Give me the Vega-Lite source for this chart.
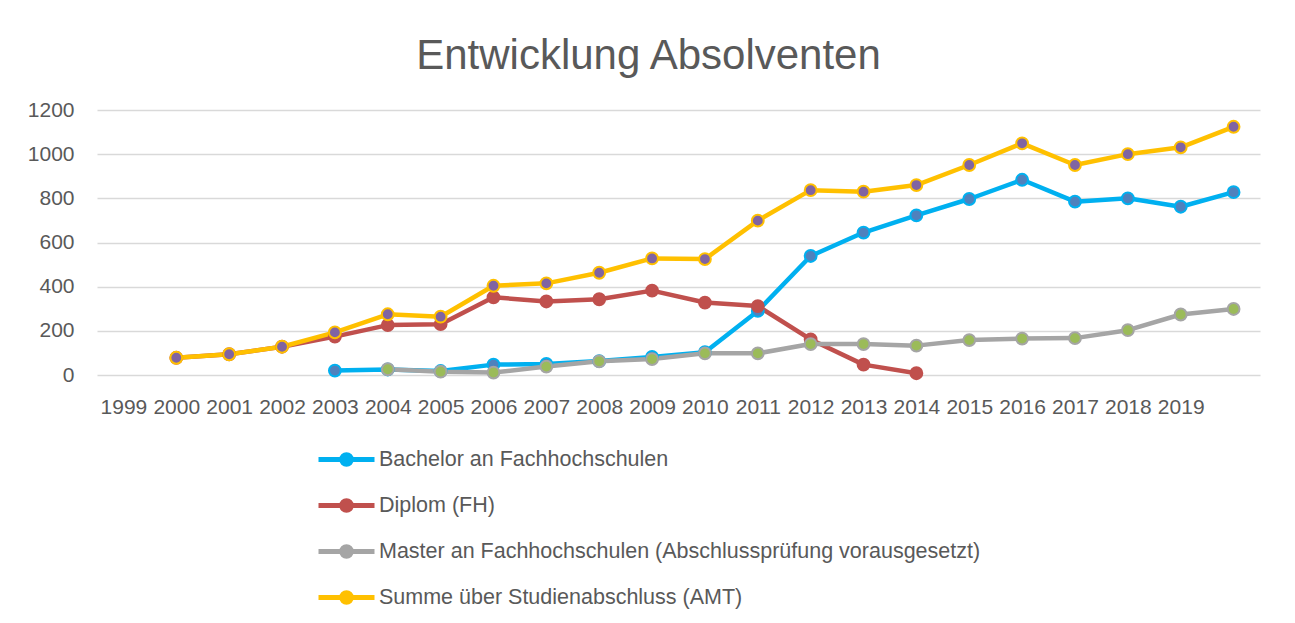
{
  "$schema": "https://vega.github.io/schema/vega-lite/v6.json",
  "width": 1163,
  "height": 265,
  "autosize": {"type": "none"},
  "padding": {"left": 97, "top": 110, "right": 35, "bottom": 248},
  "background": "white",
  "config": {
    "view": {"stroke": null},
    "font": "Liberation Sans",
    "legend": {
      "orient": "none",
      "legendX": 219,
      "legendY": 319,
      "padding": 0,
      "symbolType": "M-1,0H1M0.17,0A0.17,0.17,0,1,1,-0.17,0A0.17,0.17,0,1,1,0.17,0Z",
      "symbolSize": 3136,
      "symbolStrokeWidth": 5,
      "labelFontSize": 21.5,
      "labelColor": "#595959",
      "labelFont": "Liberation Sans",
      "labelOffset": 2,
      "rowPadding": -3,
      "labelLimit": 900
    }
  },
  "title": {
    "text": "Entwicklung Absolventen",
    "fontSize": 42,
    "font": "Liberation Sans",
    "fontWeight": "normal",
    "color": "#595959",
    "anchor": "middle",
    "frame": "group",
    "dx": -30,
    "offset": -12,
    "baseline": "alphabetic"
  },
  "data": {
    "values": [
      {"year": 2003, "series": "Bachelor an Fachhochschulen", "value": 20},
      {"year": 2004, "series": "Bachelor an Fachhochschulen", "value": 25},
      {"year": 2005, "series": "Bachelor an Fachhochschulen", "value": 18},
      {"year": 2006, "series": "Bachelor an Fachhochschulen", "value": 47},
      {"year": 2007, "series": "Bachelor an Fachhochschulen", "value": 50},
      {"year": 2008, "series": "Bachelor an Fachhochschulen", "value": 63},
      {"year": 2009, "series": "Bachelor an Fachhochschulen", "value": 82},
      {"year": 2010, "series": "Bachelor an Fachhochschulen", "value": 103},
      {"year": 2011, "series": "Bachelor an Fachhochschulen", "value": 290},
      {"year": 2012, "series": "Bachelor an Fachhochschulen", "value": 539},
      {"year": 2013, "series": "Bachelor an Fachhochschulen", "value": 645},
      {"year": 2014, "series": "Bachelor an Fachhochschulen", "value": 723},
      {"year": 2015, "series": "Bachelor an Fachhochschulen", "value": 797},
      {"year": 2016, "series": "Bachelor an Fachhochschulen", "value": 884},
      {"year": 2017, "series": "Bachelor an Fachhochschulen", "value": 785},
      {"year": 2018, "series": "Bachelor an Fachhochschulen", "value": 800},
      {"year": 2019, "series": "Bachelor an Fachhochschulen", "value": 762},
      {"year": 2020, "series": "Bachelor an Fachhochschulen", "value": 828},
      {"year": 2000, "series": "Diplom (FH)", "value": 78},
      {"year": 2001, "series": "Diplom (FH)", "value": 94},
      {"year": 2002, "series": "Diplom (FH)", "value": 128},
      {"year": 2003, "series": "Diplom (FH)", "value": 174},
      {"year": 2004, "series": "Diplom (FH)", "value": 226},
      {"year": 2005, "series": "Diplom (FH)", "value": 230},
      {"year": 2006, "series": "Diplom (FH)", "value": 352},
      {"year": 2007, "series": "Diplom (FH)", "value": 333},
      {"year": 2008, "series": "Diplom (FH)", "value": 343},
      {"year": 2009, "series": "Diplom (FH)", "value": 382},
      {"year": 2010, "series": "Diplom (FH)", "value": 328},
      {"year": 2011, "series": "Diplom (FH)", "value": 312},
      {"year": 2012, "series": "Diplom (FH)", "value": 161},
      {"year": 2013, "series": "Diplom (FH)", "value": 47},
      {"year": 2014, "series": "Diplom (FH)", "value": 8},
      {"year": 2004, "series": "Master an Fachhochschulen (Abschlussprüfung vorausgesetzt)", "value": 26},
      {"year": 2005, "series": "Master an Fachhochschulen (Abschlussprüfung vorausgesetzt)", "value": 15},
      {"year": 2006, "series": "Master an Fachhochschulen (Abschlussprüfung vorausgesetzt)", "value": 11},
      {"year": 2007, "series": "Master an Fachhochschulen (Abschlussprüfung vorausgesetzt)", "value": 38},
      {"year": 2008, "series": "Master an Fachhochschulen (Abschlussprüfung vorausgesetzt)", "value": 62},
      {"year": 2009, "series": "Master an Fachhochschulen (Abschlussprüfung vorausgesetzt)", "value": 72},
      {"year": 2010, "series": "Master an Fachhochschulen (Abschlussprüfung vorausgesetzt)", "value": 98},
      {"year": 2011, "series": "Master an Fachhochschulen (Abschlussprüfung vorausgesetzt)", "value": 98},
      {"year": 2012, "series": "Master an Fachhochschulen (Abschlussprüfung vorausgesetzt)", "value": 140},
      {"year": 2013, "series": "Master an Fachhochschulen (Abschlussprüfung vorausgesetzt)", "value": 140},
      {"year": 2014, "series": "Master an Fachhochschulen (Abschlussprüfung vorausgesetzt)", "value": 133},
      {"year": 2015, "series": "Master an Fachhochschulen (Abschlussprüfung vorausgesetzt)", "value": 158},
      {"year": 2016, "series": "Master an Fachhochschulen (Abschlussprüfung vorausgesetzt)", "value": 165},
      {"year": 2017, "series": "Master an Fachhochschulen (Abschlussprüfung vorausgesetzt)", "value": 167},
      {"year": 2018, "series": "Master an Fachhochschulen (Abschlussprüfung vorausgesetzt)", "value": 203},
      {"year": 2019, "series": "Master an Fachhochschulen (Abschlussprüfung vorausgesetzt)", "value": 274},
      {"year": 2020, "series": "Master an Fachhochschulen (Abschlussprüfung vorausgesetzt)", "value": 299},
      {"year": 2000, "series": "Summe über Studienabschluss (AMT)", "value": 78},
      {"year": 2001, "series": "Summe über Studienabschluss (AMT)", "value": 94},
      {"year": 2002, "series": "Summe über Studienabschluss (AMT)", "value": 128},
      {"year": 2003, "series": "Summe über Studienabschluss (AMT)", "value": 193},
      {"year": 2004, "series": "Summe über Studienabschluss (AMT)", "value": 275},
      {"year": 2005, "series": "Summe über Studienabschluss (AMT)", "value": 264},
      {"year": 2006, "series": "Summe über Studienabschluss (AMT)", "value": 404},
      {"year": 2007, "series": "Summe über Studienabschluss (AMT)", "value": 415},
      {"year": 2008, "series": "Summe über Studienabschluss (AMT)", "value": 463},
      {"year": 2009, "series": "Summe über Studienabschluss (AMT)", "value": 528},
      {"year": 2010, "series": "Summe über Studienabschluss (AMT)", "value": 525},
      {"year": 2011, "series": "Summe über Studienabschluss (AMT)", "value": 699},
      {"year": 2012, "series": "Summe über Studienabschluss (AMT)", "value": 837},
      {"year": 2013, "series": "Summe über Studienabschluss (AMT)", "value": 830},
      {"year": 2014, "series": "Summe über Studienabschluss (AMT)", "value": 860},
      {"year": 2015, "series": "Summe über Studienabschluss (AMT)", "value": 951},
      {"year": 2016, "series": "Summe über Studienabschluss (AMT)", "value": 1049},
      {"year": 2017, "series": "Summe über Studienabschluss (AMT)", "value": 951},
      {"year": 2018, "series": "Summe über Studienabschluss (AMT)", "value": 1000},
      {"year": 2019, "series": "Summe über Studienabschluss (AMT)", "value": 1031},
      {"year": 2020, "series": "Summe über Studienabschluss (AMT)", "value": 1124}
    ]
  },
  "encoding": {
    "x": {
      "field": "year",
      "type": "ordinal",
      "scale": {
        "type": "point",
        "domain": [1999, 2000, 2001, 2002, 2003, 2004, 2005, 2006, 2007, 2008, 2009, 2010, 2011, 2012, 2013, 2014, 2015, 2016, 2017, 2018, 2019, 2020],
        "padding": 0.5
      },
      "axis": {
        "title": null,
        "labelAngle": 0,
        "domain": false,
        "ticks": false,
        "grid": false,
        "labelFontSize": 21,
        "labelColor": "#595959",
        "labelPadding": 21,
        "labelExpr": "datum.value == 2020 ? '' : datum.label"
      }
    },
    "y": {
      "field": "value",
      "type": "quantitative",
      "scale": {"domain": [0, 1200], "nice": false},
      "axis": {
        "title": null,
        "values": [0, 200, 400, 600, 800, 1000, 1200],
        "format": "d",
        "domain": false,
        "ticks": false,
        "gridColor": "#D9D9D9",
        "gridWidth": 1.3,
        "labelFontSize": 21,
        "labelColor": "#595959",
        "labelPadding": 23
      }
    }
  },
  "layer": [
    {
      "mark": {"type": "line", "strokeWidth": 4.5, "strokeCap": "round", "strokeJoin": "round"},
      "encoding": {
        "stroke": {
          "field": "series",
          "type": "nominal",
          "scale": {
            "domain": ["Bachelor an Fachhochschulen", "Diplom (FH)", "Master an Fachhochschulen (Abschlussprüfung vorausgesetzt)", "Summe über Studienabschluss (AMT)"],
            "range": ["#00B0F0", "#C0504D", "#A5A5A5", "#FFC000"]
          },
          "legend": {"title": null}
        }
      }
    },
    {
      "mark": {"type": "point", "filled": true, "size": 140, "strokeWidth": 2, "opacity": 1},
      "encoding": {
        "stroke": {"field": "series", "type": "nominal"},
        "fill": {
          "field": "series",
          "type": "nominal",
          "scale": {
            "domain": ["Bachelor an Fachhochschulen", "Diplom (FH)", "Master an Fachhochschulen (Abschlussprüfung vorausgesetzt)", "Summe über Studienabschluss (AMT)"],
            "range": ["#4F81BD", "#C0504D", "#9BBB59", "#8064A2"]
          },
          "legend": {"title": null}
        }
      }
    }
  ]
}
